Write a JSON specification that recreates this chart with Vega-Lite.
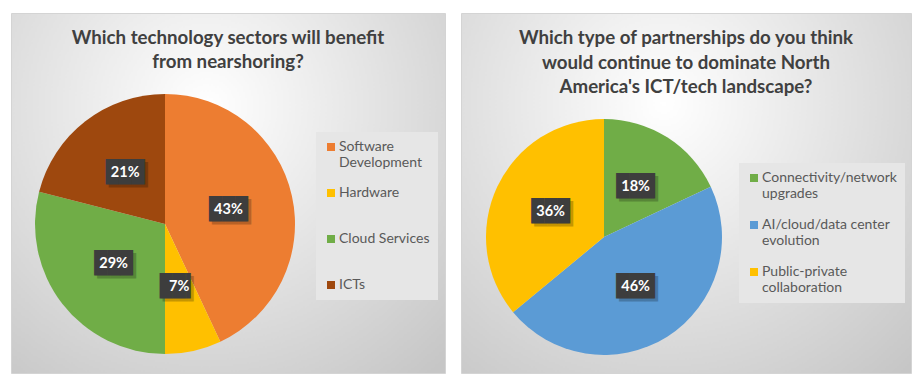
{
  "$schema": "https://vega.github.io/schema/vega-lite/v6.json",
  "padding": {"left": 10, "top": 12, "right": 0, "bottom": 0},
  "background": "#ffffff",
  "spacing": 14,
  "resolve": {"scale": {"color": "independent"}, "legend": {"color": "independent"}},
  "datasets": {
    "sectors": [
      {"sector": "Software Development", "share": 0.43, "rank": 1},
      {"sector": "Hardware", "share": 0.07, "rank": 2},
      {"sector": "Cloud Services", "share": 0.29, "rank": 3},
      {"sector": "ICTs", "share": 0.21, "rank": 4}
    ],
    "partnerships": [
      {"partnership": "Connectivity/network upgrades", "share": 0.18, "rank": 1},
      {"partnership": "AI/cloud/data center evolution", "share": 0.46, "rank": 2},
      {"partnership": "Public-private collaboration", "share": 0.36, "rank": 3}
    ]
  },
  "config": {
    "view": {"stroke": "#d4d4d4"},
    "title": {"font": "Lato", "fontSize": 18.7, "fontWeight": "bold", "color": "#404040", "anchor": "middle", "baseline": "top", "lineHeight": 24.5},
    "legend": {
      "title": null, "fillColor": "#e6e6e6", "padding": 8, "symbolType": "square", "symbolSize": 64,
      "symbolStrokeWidth": 0, "labelFont": "Lato", "labelFontSize": 14, "labelColor": "#595959",
      "gridAlign": "all", "rowPadding": 17, "labelOffset": 1, "labelLimit": 300, "labelBaseline": "alphabetic",
      "labelLineHeight": 18
    }
  },
  "hconcat": [
    {
      "width": 434, "height": 360,
      "view": {"stroke": "#d4d4d4", "fill": {"gradient": "radial", "x1": 0.45, "y1": 0.3, "r1": 0, "x2": 0.45, "y2": 0.3, "r2": 0.8,
        "stops": [{"offset": 0, "color": "#ffffff"}, {"offset": 1, "color": "#c6c6c6"}]}},
      "title": {"text": ["Which technology sectors will benefit", "from nearshoring?"], "offset": -59},
      "data": {"name": "sectors"},
      "encoding": {
        "theta": {"field": "share", "type": "quantitative", "stack": true},
        "order": {"field": "rank", "type": "quantitative"}
      },
      "layer": [
        {
          "mark": {"type": "arc", "radius": 130, "x": 154, "y": 211},
          "encoding": {
            "color": {"field": "sector", "type": "nominal", "sort": null,
              "scale": {"domain": ["Software Development", "Hardware", "Cloud Services", "ICTs"], "range": ["#ED7D31", "#FFC000", "#70AD47", "#9E480E"]},
              "legend": {"orient": "none", "legendX": 305, "legendY": 119, "rowPadding": 16,
                "labelExpr": "datum.label == 'Software Development' ? ['Software', 'Development'] : datum.label",
                "encode": {"labels": {"update": {"dy": {"value": 4}}}}}
            }
          }
        },
        {
          "mark": {"type": "text", "font": "DejaVu Sans Mono", "fontSize": 21.5, "color": "#000000", "opacity": 0.22, "dx": 3, "dy": 3, "x": 154, "y": 211, "radius": 65},
          "encoding": {"detail": {"field": "sector"}, "text": {"condition": {"test": "datum.share < 0.1", "value": "██▍"}, "value": "███"}}
        },
        {
          "mark": {"type": "text", "font": "DejaVu Sans Mono", "fontSize": 21.5, "color": "#3d3d3d", "x": 154, "y": 211, "radius": 65},
          "encoding": {"detail": {"field": "sector"}, "text": {"condition": {"test": "datum.share < 0.1", "value": "██▍"}, "value": "███"}}
        },
        {
          "mark": {"type": "text", "font": "Lato", "fontSize": 14.5, "fontWeight": "bold", "color": "#ffffff", "x": 154, "y": 211, "radius": 65},
          "encoding": {"detail": {"field": "sector"}, "text": {"field": "share", "type": "quantitative", "format": ".0%"}}
        }
      ]
    },
    {
      "width": 450, "height": 360,
      "view": {"stroke": "#d4d4d4", "fill": {"gradient": "radial", "x1": 0.45, "y1": 0.3, "r1": 0, "x2": 0.45, "y2": 0.3, "r2": 0.8,
        "stops": [{"offset": 0, "color": "#ffffff"}, {"offset": 1, "color": "#c6c6c6"}]}},
      "title": {"text": ["Which type of partnerships do you think", "would continue to dominate North", "America's ICT/tech landscape?"], "offset": -84},
      "data": {"name": "partnerships"},
      "encoding": {
        "theta": {"field": "share", "type": "quantitative", "stack": true},
        "order": {"field": "rank", "type": "quantitative"}
      },
      "layer": [
        {
          "mark": {"type": "arc", "radius": 118, "x": 143, "y": 224},
          "encoding": {
            "color": {"field": "partnership", "type": "nominal", "sort": null,
              "scale": {"domain": ["Connectivity/network upgrades", "AI/cloud/data center evolution", "Public-private collaboration"], "range": ["#70AD47", "#5B9BD5", "#FFC000"]},
              "legend": {"orient": "none", "legendX": 278, "legendY": 150,
                "labelExpr": "datum.label == 'Connectivity/network upgrades' ? ['Connectivity/network', 'upgrades'] : datum.label == 'AI/cloud/data center evolution' ? ['AI/cloud/data center', 'evolution'] : ['Public-private', 'collaboration']",
                "encode": {"labels": {"update": {"dy": {"value": 4}}}}}
            }
          }
        },
        {
          "mark": {"type": "text", "font": "DejaVu Sans Mono", "fontSize": 21.5, "color": "#000000", "opacity": 0.22, "dx": 3, "dy": 3, "x": 143, "y": 224, "radius": 59},
          "encoding": {"detail": {"field": "partnership"}, "text": {"value": "███"}}
        },
        {
          "mark": {"type": "text", "font": "DejaVu Sans Mono", "fontSize": 21.5, "color": "#3d3d3d", "x": 143, "y": 224, "radius": 59},
          "encoding": {"detail": {"field": "partnership"}, "text": {"value": "███"}}
        },
        {
          "mark": {"type": "text", "font": "Lato", "fontSize": 14.5, "fontWeight": "bold", "color": "#ffffff", "x": 143, "y": 224, "radius": 59},
          "encoding": {"detail": {"field": "partnership"}, "text": {"field": "share", "type": "quantitative", "format": ".0%"}}
        }
      ]
    }
  ]
}
